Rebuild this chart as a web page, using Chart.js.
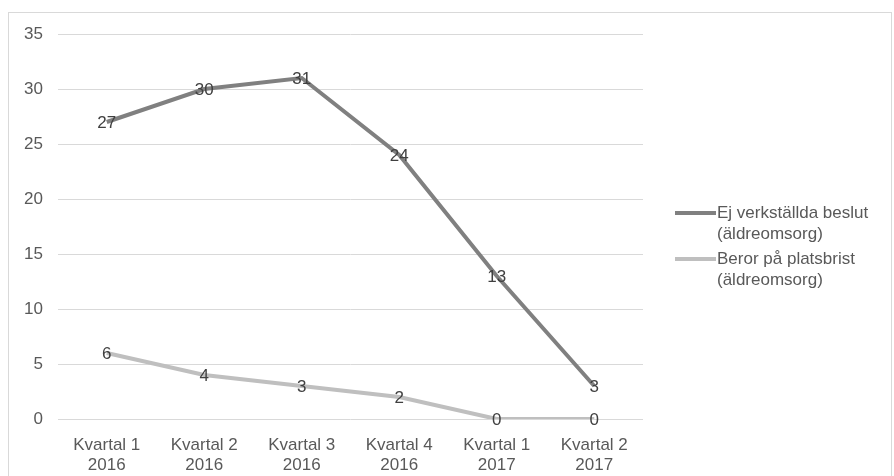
<!DOCTYPE html>
<html>
<head>
<meta charset="utf-8">
<script src="https://cdn.jsdelivr.net/npm/chart.js@4.4.0/dist/chart.umd.min.js"></script>
<style>
    body { margin: 0; background: #fff; }
    #frame { position: absolute; left: 8px; top: 12px; width: 884px; height: 480px; border: 1px solid #d9d9d9; box-sizing: border-box; }
    #wrap { position: absolute; left: 0; top: 0; width: 894px; height: 476px; }
</style>
</head>
<body>
<div id="frame"></div>
<div id="wrap"><canvas id="lineChart"></canvas></div>
<script>
// Data
const quarters = [['Kvartal 1', '2016'], ['Kvartal 2', '2016'], ['Kvartal 3', '2016'], ['Kvartal 4', '2016'], ['Kvartal 1', '2017'], ['Kvartal 2', '2017']];
const ejVerkstallda = [27, 30, 31, 24, 13, 3];
const platsbrist = [6, 4, 3, 2, 0, 0];
const seriesNames = [['Ej verkställda beslut', '(äldreomsorg)'], ['Beror på platsbrist', '(äldreomsorg)']];

const FONT = '"Liberation Sans", Arial, sans-serif';

// Point value labels, centered on each point
const valueLabels = {
    id: 'valueLabels',
    afterDatasetsDraw(chart) {
        const ctx = chart.ctx;
        ctx.save();
        ctx.font = '17px ' + FONT;
        ctx.fillStyle = '#404040';
        ctx.textAlign = 'center';
        ctx.textBaseline = 'middle';
        chart.data.datasets.forEach((ds, i) => {
            chart.getDatasetMeta(i).data.forEach((pt, j) => {
                ctx.fillText(ds.data[j], pt.x, pt.y + 1);
            });
        });
        ctx.restore();
    }
};

// Legend on the right with two-line labels
const sideLegend = {
    id: 'sideLegend',
    afterDraw(chart) {
        const ctx = chart.ctx;
        const rows = [213, 259];
        ctx.save();
        ctx.font = '17px ' + FONT;
        ctx.textAlign = 'left';
        ctx.textBaseline = 'middle';
        chart.data.datasets.forEach((ds, i) => {
            const y = rows[i];
            ctx.strokeStyle = ds.borderColor;
            ctx.lineWidth = 4;
            ctx.beginPath();
            ctx.moveTo(675, y);
            ctx.lineTo(716, y);
            ctx.stroke();
            ctx.fillStyle = '#595959';
            seriesNames[i].forEach((line, k) => {
                ctx.fillText(line, 717, y + k * 21);
            });
        });
        ctx.restore();
    }
};

new Chart(document.getElementById('lineChart'), {
    type: 'line',
    data: {
        labels: quarters,
        datasets: [{
            label: seriesNames[0].join(' '),
            data: ejVerkstallda,
            borderColor: '#808080',
            borderWidth: 4,
            pointRadius: 0,
            tension: 0
        }, {
            label: seriesNames[1].join(' '),
            data: platsbrist,
            borderColor: '#bfbfbf',
            borderWidth: 4,
            pointRadius: 0,
            tension: 0
        }]
    },
    options: {
        responsive: true,
        maintainAspectRatio: false,
        animation: false,
        layout: { padding: { left: 0, top: 34, right: 251, bottom: 0 } },
        plugins: {
            legend: { display: false },
            tooltip: { enabled: false }
        },
        scales: {
            x: {
                offset: true,
                grid: { display: false },
                border: { display: false },
                ticks: { color: '#595959', font: { family: FONT, size: 17, lineHeight: 1.18 }, padding: 8, maxRotation: 0 },
                afterFit(scale) { scale.height = 57; }
            },
            y: {
                min: 0,
                max: 35,
                grid: { color: '#d9d9d9', drawTicks: false },
                border: { display: false },
                ticks: { stepSize: 5, color: '#595959', font: { family: FONT, size: 17 }, padding: 15 },
                afterFit(scale) { scale.width = 58; }
            }
        }
    },
    plugins: [valueLabels, sideLegend]
});
</script>
</body>
</html>
